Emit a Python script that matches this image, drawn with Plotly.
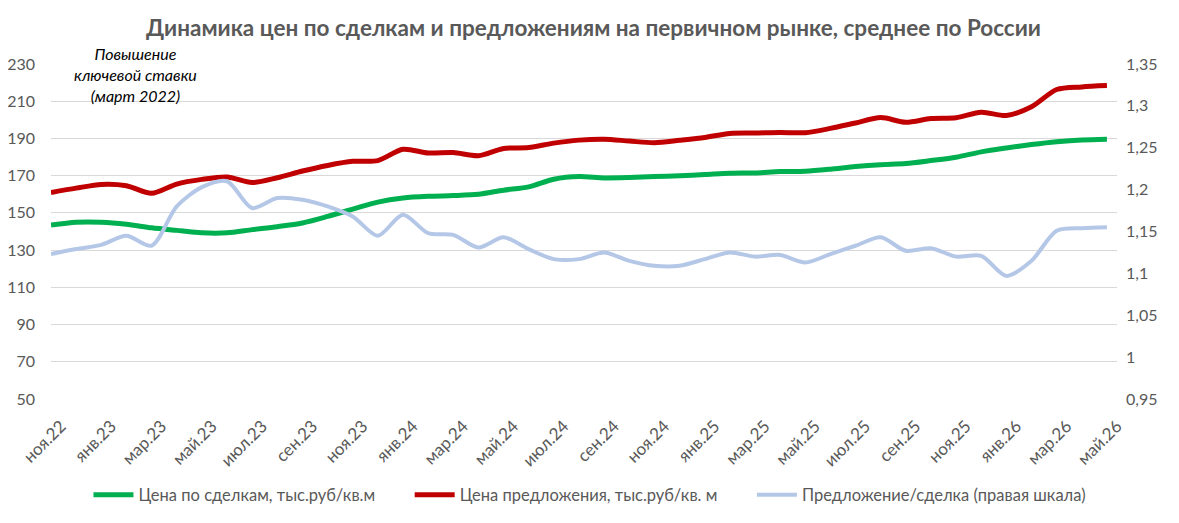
import plotly.graph_objects as go

# Помесячно: ноя.22 ... май.26
months = [
    'ноя.22', 'дек.22', 'янв.23', 'фев.23', 'мар.23', 'апр.23', 'май.23', 'июн.23',
    'июл.23', 'авг.23', 'сен.23', 'окт.23', 'ноя.23', 'дек.23', 'янв.24', 'фев.24',
    'мар.24', 'апр.24', 'май.24', 'июн.24', 'июл.24', 'авг.24', 'сен.24', 'окт.24',
    'ноя.24', 'дек.24', 'янв.25', 'фев.25', 'мар.25', 'апр.25', 'май.25', 'июн.25',
    'июл.25', 'авг.25', 'сен.25', 'окт.25', 'ноя.25', 'дек.25', 'янв.26', 'фев.26',
    'мар.26', 'апр.26', 'май.26',
]

deal_price = [
    143.5, 145.0, 145.0, 143.9, 142.0, 140.6, 139.3, 139.3, 141.0, 142.6,
    144.6, 148.1, 152.0, 155.8, 158.0, 158.9, 159.3, 160.0, 162.2, 164.0,
    168.1, 169.5, 168.8, 169.0, 169.5, 170.0, 170.6, 171.3, 171.5, 172.2,
    172.4, 173.5, 174.9, 175.9, 176.5, 178.1, 179.9, 182.8, 184.9, 186.7,
    188.2, 189.2, 189.6,
]

offer_price = [
    161.0, 163.3, 165.3, 164.6, 160.5, 165.5, 168.0, 169.3, 166.3, 168.9,
    172.5, 175.5, 177.7, 178.1, 184.2, 182.2, 182.4, 180.7, 184.6, 185.1,
    187.5, 189.1, 189.6, 188.6, 187.7, 189.0, 190.5, 192.7, 192.9, 193.2,
    193.1, 195.4, 198.3, 201.2, 198.7, 200.7, 201.1, 204.1, 202.3, 207.0,
    216.3, 217.7, 218.4,
]

ratio = [
    1.123, 1.129, 1.134, 1.145, 1.133, 1.180, 1.203, 1.210, 1.178, 1.190,
    1.188, 1.180, 1.168, 1.145, 1.170, 1.148, 1.146, 1.131, 1.143, 1.129,
    1.117, 1.117, 1.125, 1.115, 1.109, 1.109, 1.117, 1.125, 1.120, 1.122,
    1.113, 1.123, 1.133, 1.143, 1.127, 1.130, 1.120, 1.121, 1.097, 1.115,
    1.151, 1.154, 1.155,
]

left_ticks = [50, 70, 90, 110, 130, 150, 170, 190, 210, 230]
right_ticks = [0.95, 1.0, 1.05, 1.1, 1.15, 1.2, 1.25, 1.3, 1.35]
right_text = ['0,95', '1', '1,05', '1,1', '1,15', '1,2', '1,25', '1,3', '1,35']

FONT = 'Lato'
GREY = '#595959'
GAP = '\u00a0' * 7  # отступ между элементами легенды

# страница смещает график на 8px (отступ body), поэтому размеры меньше окна
W, H = 1171, 515

fig = go.Figure()

fig.add_trace(go.Scatter(
    x=months, y=deal_price, name='Цена по сделкам, тыс.руб/кв.м' + GAP,
    mode='lines', line=dict(color='#00B050', width=5, shape='spline', smoothing=0.8),
))
fig.add_trace(go.Scatter(
    x=months, y=offer_price, name='Цена предложения, тыс.руб/кв. м' + GAP,
    mode='lines', line=dict(color='#C00000', width=5, shape='spline', smoothing=0.8),
))
fig.add_trace(go.Scatter(
    x=months, y=ratio, name='Предложение/сделка (правая шкала)', yaxis='y2',
    mode='lines', line=dict(color='#B4C7E7', width=4, shape='spline', smoothing=0.8),
))

fig.update_layout(
    width=W, height=H,
    margin=dict(l=43, r=62, t=56, b=123),
    paper_bgcolor='white', plot_bgcolor='white',
    font=dict(family=FONT, size=16, color=GREY),
    title=dict(
        text='<b>Динамика цен по сделкам и предложениям на первичном рынке, среднее по России</b>',
        x=0.5, xanchor='center', y=1 - 20 / H, yanchor='middle', yref='container',
        font=dict(family=FONT, size=22.5, color=GREY),
    ),
    xaxis=dict(
        type='category', range=[0, 42.4], automargin=False,
        tickmode='array', tickvals=months[::2], ticktext=months[::2],
        tickangle=-45, showgrid=False, zeroline=False, showline=False,
        ticklabelstandoff=13, ticklabelshift=10,
        tickfont=dict(size=17, color=GREY),
    ),
    yaxis=dict(
        range=[50, 230], tickvals=left_ticks, showgrid=True, gridcolor='#D9D9D9',
        gridwidth=1.3, zeroline=False, showline=False, ticklabelstandoff=15,
        automargin=False, tickfont=dict(size=16, color=GREY),
    ),
    yaxis2=dict(
        range=[0.95, 1.35], overlaying='y', side='right', tickmode='array',
        tickvals=right_ticks, ticktext=right_text, showgrid=False, zeroline=False,
        showline=False, ticklabelstandoff=8, automargin=False,
        tickfont=dict(size=16, color=GREY),
    ),
    legend=dict(
        orientation='h', x=0.5056, xanchor='center', y=-0.283, yanchor='middle',
        yref='paper', font=dict(size=16.5, color=GREY), itemwidth=40,
    ),
    showlegend=True,
)

fig.add_annotation(
    x=3.38, y=(392 - 67) / 336, xref='x', yref='paper',
    text='<i>Повышение<br>ключевой ставки<br>(март 2022)</i>',
    showarrow=False, align='center', xanchor='center', yanchor='middle',
    font=dict(family=FONT, size=16, color='#000000'),
)

fig.write_html('out.html')
